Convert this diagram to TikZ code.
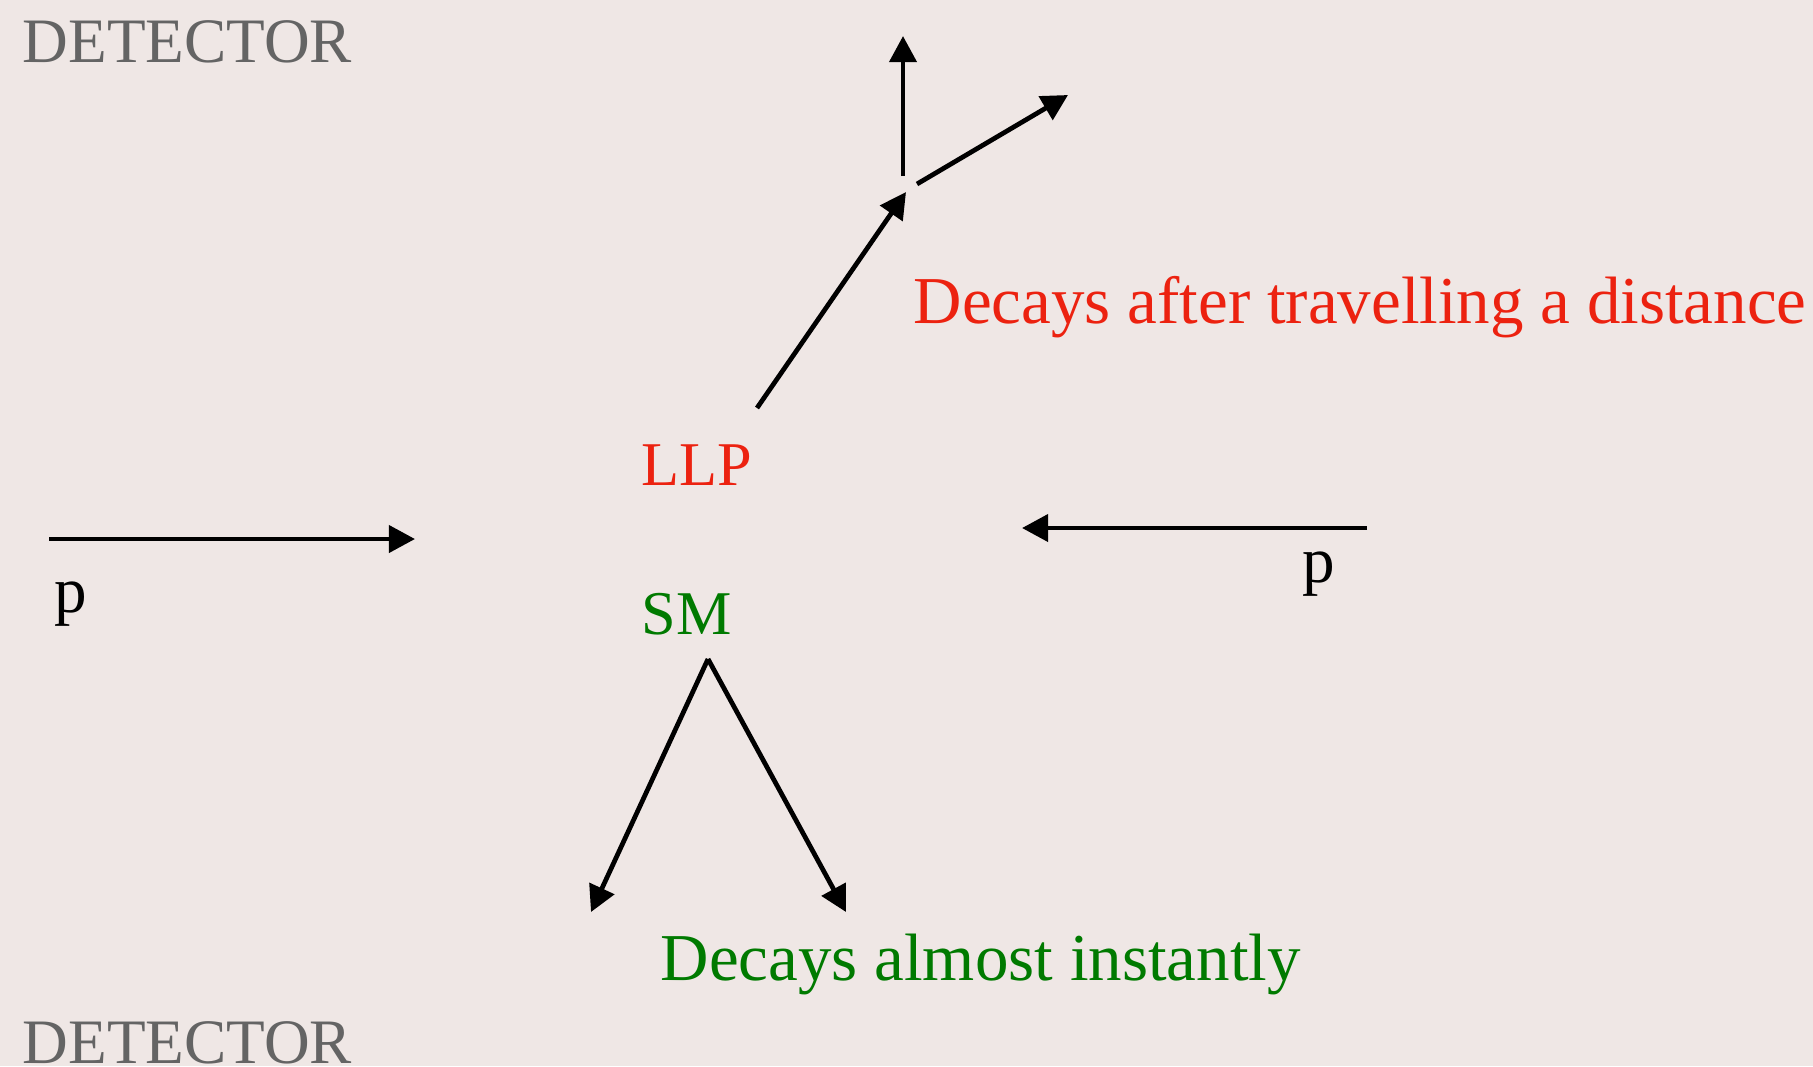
\documentclass[tikz,border=0pt]{standalone}
\usepackage{fontspec}
\setmainfont{Liberation Serif}
\usetikzlibrary{arrows.meta}
\definecolor{bgclr}{RGB}{239,231,229}
\definecolor{detclr}{RGB}{100,100,100}
\definecolor{llpclr}{RGB}{236,34,16}
\definecolor{smclr}{RGB}{0,122,0}
\tikzset{ %
  ,>={Triangle[length=7.4pt,width=7.6pt]}
  ,every node/.style={inner sep=0, anchor=base west, font=\fontsize{18.5}{22}\selectfont}
  ,det/.style={text=detclr, font=\fontsize{18}{22}\selectfont}
  ,llp/.style={text=llpclr}
  ,sm/.style={text=smclr}
  ,tag/.style={font=\fontsize{17.7}{22}\selectfont}
  ,note/.style={font=\fontsize{19.05}{23}\selectfont}
  ,beam/.style={line width=1.35pt, ->}
}
\begin{document}
\begin{tikzpicture}[x=0.01cm, y=-0.01cm]
      \fill[bgclr] (0,0) rectangle (1813,1066);
      \useasboundingbox (0,0) rectangle (1813,1066);
      \draw
      node[det] (dettop) at (22,62) {DETECTOR}
      node[det] (detbot) at (22,1063) {DETECTOR}
      node[llp, tag] (llp) at (641,485) {LLP}
      node[sm, tag] (sm) at (641,634) {SM}
      node[llp, note] (llpnote) at (913,323) {Decays after travelling a distance}
      node[sm, note] (smnote) at (660,980) {Decays almost instantly}
      node (pleft) at (54,612) {p}
      node (pright) at (1302,582) {p};
      % beams
      \coordinate (pl0) at (49,539);
      \coordinate (pl1) at (415,539);
      \coordinate (pr0) at (1367,528);
      \coordinate (pr1) at (1022,528);
      \draw [beam] (pl0) -- (pl1);
      \draw [beam] (pr0) -- (pr1);
      % long lived particle and its decay
      \coordinate (llp0) at (757,408);
      \coordinate (vtx) at (906,192);
      \coordinate (up0) at (903,176);
      \coordinate (up1) at (903,36);
      \coordinate (rt0) at (917,184);
      \coordinate (rt1) at (1068,95);
      \draw [beam] (llp0) -- (vtx);
      \draw [beam] (up0) -- (up1);
      \draw [beam] (rt0) -- (rt1);
      % prompt decay
      \coordinate (sm0) at (708,659);
      \coordinate (smL) at (591,912);
      \coordinate (smR) at (846,912);
      \draw [beam] (sm0) -- (smL);
      \draw [beam] (sm0) -- (smR);
    \end{tikzpicture}
\end{document}
